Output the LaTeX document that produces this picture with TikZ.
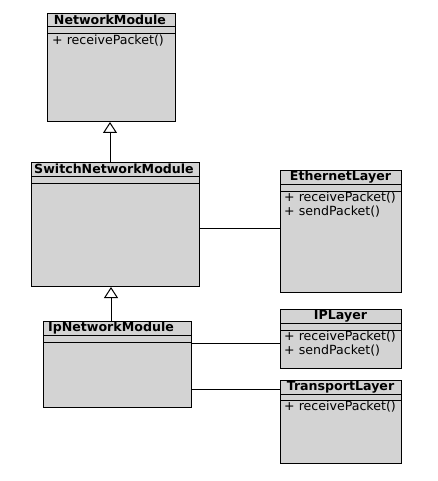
\documentclass[tikz,border=0pt]{standalone}
\usepackage{fontspec}
\setmainfont{DejaVu Sans}
\usetikzlibrary{arrows.meta}
\definecolor{boxgray}{RGB}{211,211,211}
\tikzset{
  classbox/.style={draw=black, fill=boxgray, line width=1pt, anchor=north west, inner sep=0pt},
  ctitle/.style={font=\fontsize{12.6}{13}\selectfont\bfseries, inner sep=0pt, anchor=center},
  cmeth/.style={font=\fontsize{12.6}{14}\selectfont, inner sep=0pt, anchor=west, align=left},
  sepline/.style={line width=1pt},
  assoc/.style={line width=1pt},
  inherit/.style={line width=1pt, -{Triangle[open, length=11pt, width=14pt, fill=white]}}
}
\begin{document}
\begin{tikzpicture}[x=1pt,y=-1pt]
\useasboundingbox (0,0) rectangle (437,481);
% NetworkModule
\node[classbox, minimum width=128pt, minimum height=108pt] (nm) at (47,13) {};
\draw[sepline] (47,27) -- (175,27);
\draw[sepline] (47,34) -- (175,34);
\node[ctitle] (nmt) at (110,20) {NetworkModule};
\node[cmeth] (nmm) at (52,41) {+ receivePacket()};
% SwitchNetworkModule
\node[classbox, minimum width=168pt, minimum height=124pt] (sw) at (31,162) {};
\draw[sepline] (31,176) -- (199,176);
\draw[sepline] (31,183) -- (199,183);
\node[ctitle] (swt) at (114,169) {SwitchNetworkModule};
% IpNetworkModule
\node[classbox, minimum width=148pt, minimum height=86pt] (ip) at (43,321) {};
\draw[sepline] (43,335) -- (191,335);
\draw[sepline] (43,342) -- (191,342);
\node[ctitle] (ipt) at (111,328) {IpNetworkModule};
% EthernetLayer
\node[classbox, minimum width=121pt, minimum height=122pt] (eth) at (280,170) {};
\draw[sepline] (280,184) -- (401,184);
\draw[sepline] (280,191) -- (401,191);
\node[ctitle] (etht) at (340.5,177) {EthernetLayer};
\node[cmeth] (ethm) at (284,205) {+ receivePacket()\\+ sendPacket()};
% IPLayer
\node[classbox, minimum width=121pt, minimum height=59pt] (ipl) at (280,309) {};
\draw[sepline] (280,323) -- (401,323);
\draw[sepline] (280,330) -- (401,330);
\node[ctitle] (iplt) at (340.5,316) {IPLayer};
\node[cmeth] (iplm) at (284,344) {+ receivePacket()\\+ sendPacket()};
% TransportLayer
\node[classbox, minimum width=121pt, minimum height=83pt] (tl) at (280,380) {};
\draw[sepline] (280,394) -- (401,394);
\draw[sepline] (280,400) -- (401,400);
\node[ctitle] (tlt) at (340.5,387) {TransportLayer};
\node[cmeth] (tlm) at (284,407) {+ receivePacket()};
% inheritance
\draw[inherit] (sw.north -| 110,0) -- (nm.south -| 110,0);
\draw[inherit] (ip.north -| 111,0) -- (sw.south -| 111,0);
% associations
\draw[assoc] (sw.east |- 0,228) -- (eth.west |- 0,228);
\draw[assoc] (ip.east |- 0,343) -- (ipl.west |- 0,343);
\draw[assoc] (ip.east |- 0,389) -- (tl.west |- 0,389);
\end{tikzpicture}
\end{document}
